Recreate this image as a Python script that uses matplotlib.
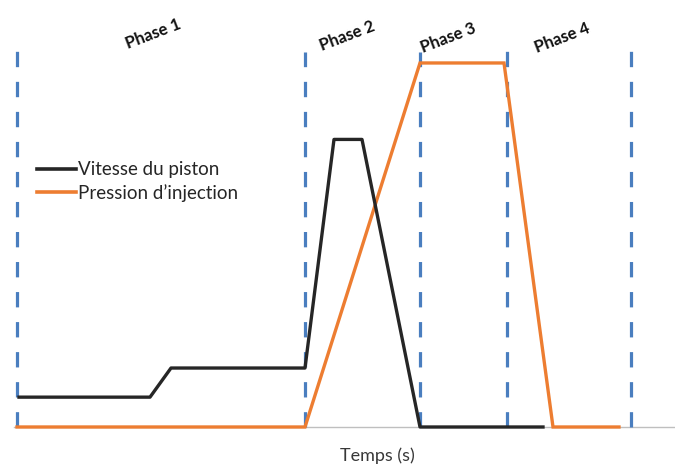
"""Phases d'injection — vitesse du piston et pression d'injection"""

import matplotlib
matplotlib.use('Agg')
import matplotlib.pyplot as plt
from matplotlib.lines import Line2D

plt.rcParams['font.family'] = ['Lato', 'DejaVu Sans']

# ========== données ==========
phase_bounds = [0, 28.8, 40.3, 49.0, 61.4]
phase_tops = [105.8, 103.0, 103.0, 105.8, 105.8]
phase_names = ['Phase 1', 'Phase 2', 'Phase 3', 'Phase 4']
phase_label_t = [13.6, 33.0, 43.1, 54.5]
phase_label_v = [108.0, 107.3, 107.0, 107.0]

t_vitesse = [0.2, 13.3, 15.4, 28.8, 31.7, 34.5, 40.3, 52.6]
vitesse = [8.2, 8.2, 16.2, 16.2, 79.0, 79.0, 0.0, 0.0]

t_pression = [0.0, 28.8, 40.3, 48.7, 53.6, 60.2]
pression = [0.0, 0.0, 100.0, 100.0, 0.0, 0.0]

# ========== style ==========
C_NOIR = '#262626'
C_ORANGE = '#ED7D31'
C_BLEU = '#4A7EBF'
C_GRIS = '#BFBFBF'

fig = plt.figure(figsize=(6.75, 4.65), dpi=100)
ax = fig.add_axes([0, 0, 1, 1])
ax.set_xlim(-1.7, 65.8)
ax.set_ylim(-10.44, 117.3)
ax.axis('off')

# axe du temps
ax.axhline(0, xmin=0.02, xmax=1, color=C_GRIS, lw=1, zorder=1)

# limites de phases
for t, top in zip(phase_bounds, phase_tops):
    ax.plot([t, t], [0, top], color=C_BLEU, lw=2.3,
            dashes=(4.8, 4.6), solid_capstyle='butt', zorder=2)

ax.plot(t_pression, pression, color=C_ORANGE, lw=2.4, zorder=3,
        solid_joinstyle='miter')
ax.plot(t_vitesse, vitesse, color=C_NOIR, lw=2.4, zorder=4,
        solid_joinstyle='round')

for name, t, v in zip(phase_names, phase_label_t, phase_label_v):
    ax.text(t, v, name, rotation=21, fontsize=12, fontweight='bold',
            color='#111111', ha='center', va='center')

ax.text(36.0, -7.8, 'Temps (s)', fontsize=13, color='#383838',
        ha='center', va='center')

handles = [Line2D([], [], color=C_NOIR, lw=2.6),
           Line2D([], [], color=C_ORANGE, lw=2.6)]
ax.legend(handles, ['Vitesse du piston', "Pression d\u2019injection"],
          loc='upper left', bbox_to_anchor=(0.043, 0.669), frameon=False,
          fontsize=13.5, handlelength=2.1, handletextpad=0.1,
          labelspacing=0.3, borderaxespad=0, labelcolor='#262626')

fig.savefig('out.png', dpi=100)
